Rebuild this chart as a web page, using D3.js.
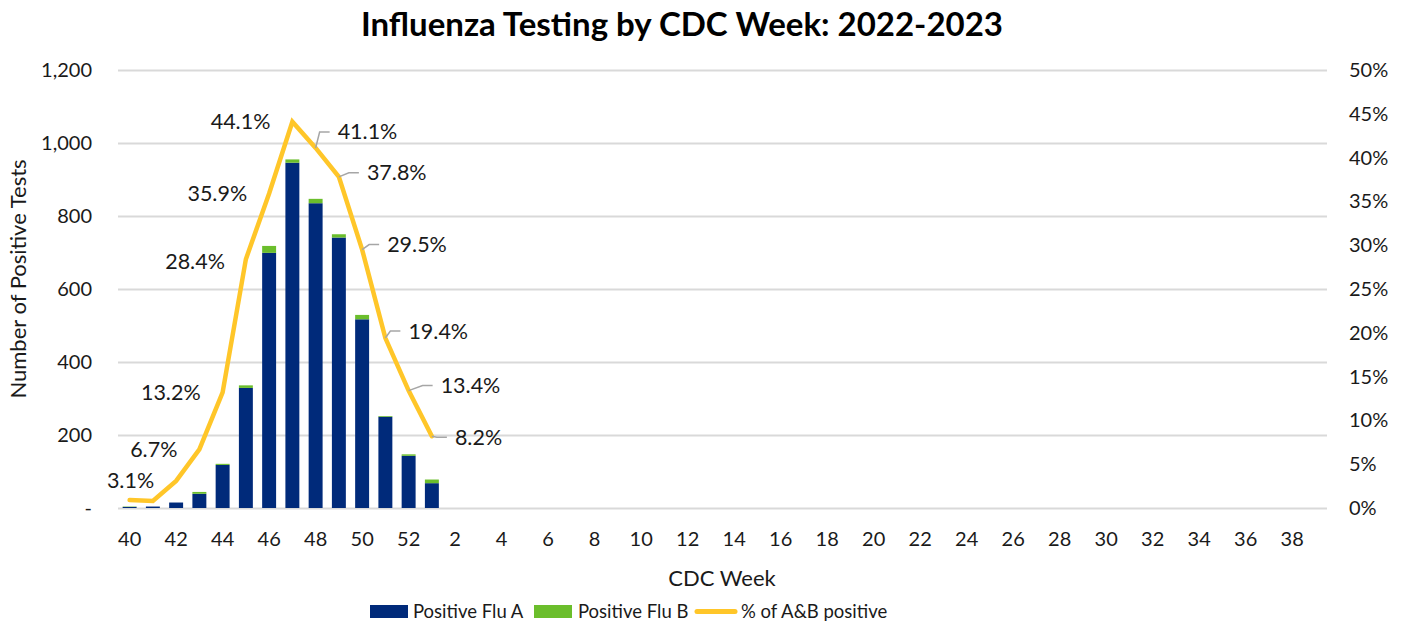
<!DOCTYPE html>
<html>
<head>
<meta charset="utf-8">
<script src="https://cdn.jsdelivr.net/npm/d3@7"></script>
<style>
  html, body { margin: 0; padding: 0; background: #fff; }
  svg { display: block; font-family: Lato, "Open Sans", sans-serif; }
</style>
</head>
<body>
<svg id="chart" width="1407" height="626"></svg>
<script>
// ---------------- data ----------------
const weeks = [40,41,42,43,44,45,46,47,48,49,50,51,52,1,2,3,4,5,6,7,8,9,10,11,12,13,14,15,16,17,18,19,20,21,22,23,24,25,26,27,28,29,30,31,32,33,34,35,36,37,38,39];
const weekTickLabels = [40,42,44,46,48,50,52,2,4,6,8,10,12,14,16,18,20,22,24,26,28,30,32,34,36,38];
// values reported so far (weeks 40 .. 1)
const positiveFluA = [3, 4, 15, 39, 118, 329, 699, 946, 835, 741, 517, 250, 143, 68];
const positiveFluB = [1, 0, 0, 5, 3, 7, 19, 9, 12, 9, 12, 2, 4, 10];
const pctPositive = [0.9, 0.8, 3.1, 6.7, 13.2, 28.4, 35.9, 44.1, 41.1, 37.8, 29.5, 19.4, 13.4, 8.2];
const labelledPct = [false, false, true, true, true, true, true, true, true, true, true, true, true, true];
const leftTicks = [0, 200, 400, 600, 800, 1000, 1200];
const leftTickLabels = ["-", "200", "400", "600", "800", "1,000", "1,200"];
const rightTicks = [0, 5, 10, 15, 20, 25, 30, 35, 40, 45, 50];
const seriesNames = ["Positive Flu A", "Positive Flu B", "% of A&B positive"];

// ---------------- layout / style ----------------
const colA = "#002A7A", colB = "#6BBE2C", colLine = "#FFC629", gridCol = "#D9D9D9", textCol = "#1a1a1a";
const X0 = 118, X1 = 1327, Y0 = 508, Y1 = 70;
// label placement: side ('L' left of point, 'R' right with leader), dx, dy
const labelPlace = [null, null,
  ["L",-22,0],["L",-22,0],["L",-22,0],["L",-21,2],["L",-22,0],["L",-22,0],
  ["R",22,-16],["R",28,-4],["R",25,-5],["R",23,-7],["R",32,-5],["R",23,1]];

const svg = d3.select("#chart");

const x = d3.scaleBand().domain(weeks).range([X0, X1]).paddingInner(0.4).paddingOuter(0.2);
const y = d3.scaleLinear().domain([0, 1200]).range([Y0, Y1]);
const yR = d3.scaleLinear().domain([0, 50]).range([Y0, Y1]);

// gridlines
const grid = svg.append("g").attr("transform", `translate(${X0},0)`)
  .call(d3.axisLeft(y).tickValues(leftTicks).tickSize(-(X1 - X0)).tickFormat(""));
grid.select(".domain").remove();
grid.selectAll("line").attr("stroke", gridCol).attr("stroke-width", 2);

// left axis labels
const ax = svg.append("g").attr("transform", `translate(${X0},0)`)
  .call(d3.axisLeft(y).tickValues(leftTicks).tickSize(0).tickPadding(26)
    .tickFormat((d, i) => leftTickLabels[i]));
ax.select(".domain").remove();
ax.selectAll("text").attr("font-size", 20).attr("fill", textCol).attr("font-family", "Lato");

// right axis labels
const axR = svg.append("g").attr("transform", `translate(${X1},0)`)
  .call(d3.axisRight(yR).tickValues(rightTicks).tickSize(0).tickPadding(22).tickFormat(d => d + "%"));
axR.select(".domain").remove();
axR.selectAll("text").attr("font-size", 20).attr("fill", textCol).attr("font-family", "Lato");

// x axis
const axX = svg.append("g").attr("transform", `translate(0,${Y0})`)
  .call(d3.axisBottom(x).tickValues(weekTickLabels).tickSize(0).tickPadding(24));
axX.select(".domain").remove();
axX.selectAll("text").attr("font-size", 20).attr("fill", textCol).attr("font-family", "Lato");

// bars
const barData = positiveFluA.map((a, i) => ({ week: weeks[i], a, b: positiveFluB[i] }));
const bars = svg.append("g");
bars.selectAll("rect.a").data(barData).join("rect").attr("class", "a")
  .attr("x", d => x(d.week)).attr("width", x.bandwidth())
  .attr("y", d => y(d.a)).attr("height", d => y(0) - y(d.a))
  .attr("fill", colA);
bars.selectAll("rect.b").data(barData).join("rect").attr("class", "b")
  .attr("x", d => x(d.week)).attr("width", x.bandwidth())
  .attr("y", d => y(d.a + d.b)).attr("height", d => y(d.a) - y(d.a + d.b))
  .attr("fill", colB);

// line
const lineData = pctPositive.map((p, i) => ({ week: weeks[i], p, i }));
const cx = d => x(d.week) + x.bandwidth() / 2;
svg.append("path").datum(lineData)
  .attr("d", d3.line().x(cx).y(d => yR(d.p)))
  .attr("fill", "none").attr("stroke", colLine).attr("stroke-width", 4.5)
  .attr("stroke-linejoin", "miter").attr("stroke-linecap", "round");

// data labels
const lbl = svg.append("g");
lineData.filter(d => labelledPct[d.i]).forEach(d => {
  const [side, dx, dy] = labelPlace[d.i];
  const px = cx(d), py = yR(d.p);
  const tx = px + dx, ty = py + dy;
  if (side === "R") {
    const hx1 = tx - 8, hx0 = Math.max(px, hx1 - 10);
    lbl.append("path")
      .attr("d", `M${px},${py}L${hx0},${ty}L${hx1},${ty}`)
      .attr("fill", "none").attr("stroke", "#A6A6A6").attr("stroke-width", 1.5);
  }
  lbl.append("text").attr("x", tx).attr("y", ty).attr("dy", "0.35em")
    .attr("text-anchor", side === "L" ? "end" : "start")
    .attr("font-size", 21.5).attr("fill", textCol).attr("font-family", "Lato")
    .text(d.p.toFixed(1) + "%");
});

// title
const title = svg.append("text").attr("x", 682).attr("y", 36).attr("text-anchor", "middle")
  .attr("font-size", 31).attr("font-weight", 700).attr("fill", "#000").attr("font-family", "Lato")
  .text("Influenza Testing by CDC Week: 2022-2023");
const tw = title.node().getComputedTextLength();
if (tw > 0) title.attr("font-size", Math.max(28, Math.min(33, 31 * 652 / tw)));

// axis titles
svg.append("text").attr("transform", "translate(26,279) rotate(-90)").attr("text-anchor", "middle")
  .attr("font-size", 22).attr("fill", textCol).attr("font-family", "Lato")
  .text("Number of Positive Tests");
svg.append("text").attr("x", 722).attr("y", 586).attr("text-anchor", "middle")
  .attr("font-size", 22).attr("fill", textCol).attr("font-family", "Lato")
  .text("CDC Week");

// legend
const leg = svg.append("g").attr("font-family", "Lato").attr("font-size", 18.5).attr("fill", textCol);
leg.append("rect").attr("x", 370).attr("y", 605).attr("width", 38).attr("height", 13).attr("fill", colA);
leg.append("text").attr("x", 413).attr("y", 618).text(seriesNames[0]);
leg.append("rect").attr("x", 534).attr("y", 605).attr("width", 38).attr("height", 13).attr("fill", colB);
leg.append("text").attr("x", 578).attr("y", 618).text(seriesNames[1]);
leg.append("line").attr("x1", 697).attr("x2", 735).attr("y1", 611.5).attr("y2", 611.5)
  .attr("stroke", colLine).attr("stroke-width", 5).attr("stroke-linecap", "round");
leg.append("text").attr("x", 741).attr("y", 618).text(seriesNames[2]);
</script>
</body>
</html>
